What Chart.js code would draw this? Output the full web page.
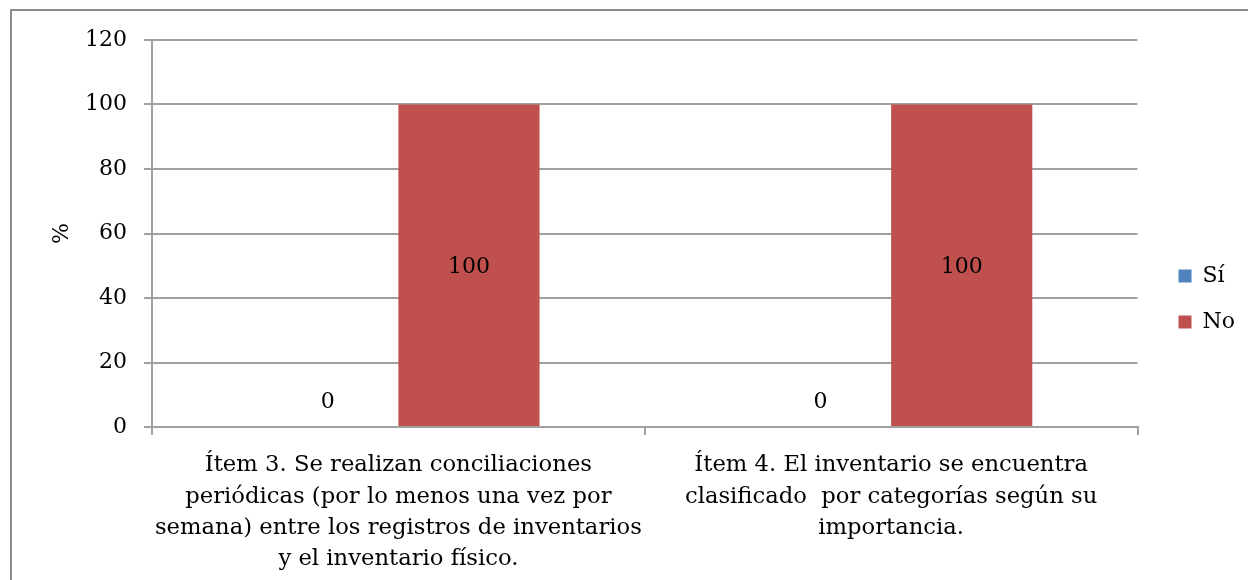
<!DOCTYPE html>
<html>
<head>
<meta charset="utf-8">
<script src="https://cdn.jsdelivr.net/npm/chart.js@4/dist/chart.umd.min.js"></script>
<style>
  html, body { margin: 0; padding: 0; background: #fff; }
  #wrap { position: relative; width: 1248px; height: 580px; overflow: hidden; }
  #frame { position: absolute; left: 10px; top: 9px; width: 1300px; height: 700px; border-left: 2px solid #8c8c8c; border-top: 2px solid #8c8c8c; pointer-events: none; }
  canvas { position: absolute; left: 0; top: 0; }
</style>
</head>
<body>
<div id="wrap">
  <canvas id="c" width="1248" height="580"></canvas>
  <div id="frame"></div>
</div>
<script>
  'use strict'
  var categories = [
    ['Ítem 3. Se realizan conciliaciones', 'periódicas (por lo menos una vez por', 'semana) entre los registros de inventarios', 'y el inventario físico.'],
    ['Ítem 4. El inventario se encuentra', 'clasificado  por categorías según su', 'importancia.']
  ]
  var siValues = [0, 0]
  var noValues = [100, 100]
  var yTicks = [0, 20, 40, 60, 80, 100, 120]

  var FONT = '"DejaVu Serif", serif'
  var GRID = '#a0a0a0'

  // value labels drawn at the bar positions the library gives us
  var valueLabels = {
    id: 'valueLabels',
    afterDatasetsDraw: function (chart) {
      var ctx = chart.ctx
      ctx.save()
      ctx.font = '22px ' + FONT
      ctx.fillStyle = '#000'
      ctx.textAlign = 'center'
      ctx.textBaseline = 'middle'
      chart.data.datasets.forEach(function (ds, i) {
        var meta = chart.getDatasetMeta(i)
        meta.data.forEach(function (bar, j) {
          var v = ds.data[j]
          var y = v === 0 ? bar.base - 25 : (bar.y + bar.base) / 2 + 2
          ctx.fillText(String(v), bar.x, y)
        })
      })
      ctx.restore()
    }
  }

  // shift the legend drawing so it sits where the original had it
  var legendNudge = {
    id: 'legendNudge',
    afterLayout: function (chart) {
      var lg = chart.legend
      if (!lg || lg._nudged) return
      var orig = lg.draw
      lg.draw = function () {
        var ctx = this.ctx
        ctx.save()
        ctx.translate(17, -11)
        orig.apply(this, arguments)
        ctx.restore()
      }
      lg._nudged = true
    }
  }

  new Chart(document.getElementById('c'), {
    type: 'bar',
    data: {
      labels: categories,
      datasets: [
        { label: 'Sí', data: siValues, backgroundColor: '#4F81BD', categoryPercentage: 0.573, barPercentage: 1.0 },
        { label: 'No', data: noValues, backgroundColor: '#C0504D', categoryPercentage: 0.573, barPercentage: 1.0 }
      ]
    },
    options: {
      responsive: false,
      animation: false,
      devicePixelRatio: 1,
      layout: { padding: { left: 0, top: 40, right: 20, bottom: 0 } },
      plugins: {
        tooltip: { enabled: false },
        legend: {
          display: true,
          position: 'right',
          labels: {
            boxWidth: 13,
            boxHeight: 13,
            padding: 24,
            color: '#000',
            font: { family: FONT, size: 22 }
          }
        }
      },
      scales: {
        x: {
          afterFit: function (scale) { scale.height = 153 },
          grid: { drawOnChartArea: false, drawTicks: true, tickLength: 8, color: GRID, lineWidth: 2, offset: true },
          border: { display: true, color: GRID, width: 2 },
          ticks: {
            color: '#000',
            padding: 15,
            maxRotation: 0,
            autoSkip: false,
            font: { family: FONT, size: 22.7, lineHeight: 1.37 }
          }
        },
        y: {
          min: 0,
          max: 120,
          afterFit: function (scale) { scale.width = 152 },
          afterBuildTicks: function (scale) {
            scale.ticks = yTicks.map(function (v) { return { value: v } })
          },
          grid: { color: GRID, lineWidth: 2, drawTicks: true, tickLength: 8 },
          border: { display: true, color: GRID, width: 2 },
          ticks: {
            color: '#000',
            padding: 17,
            font: { family: FONT, size: 22 }
          },
          title: {
            display: true,
            text: '%',
            color: '#000',
            font: { family: FONT, size: 22 },
            padding: { top: 49, bottom: 0 }
          }
        }
      }
    },
    plugins: [valueLabels, legendNudge]
  })
</script>
</body>
</html>
